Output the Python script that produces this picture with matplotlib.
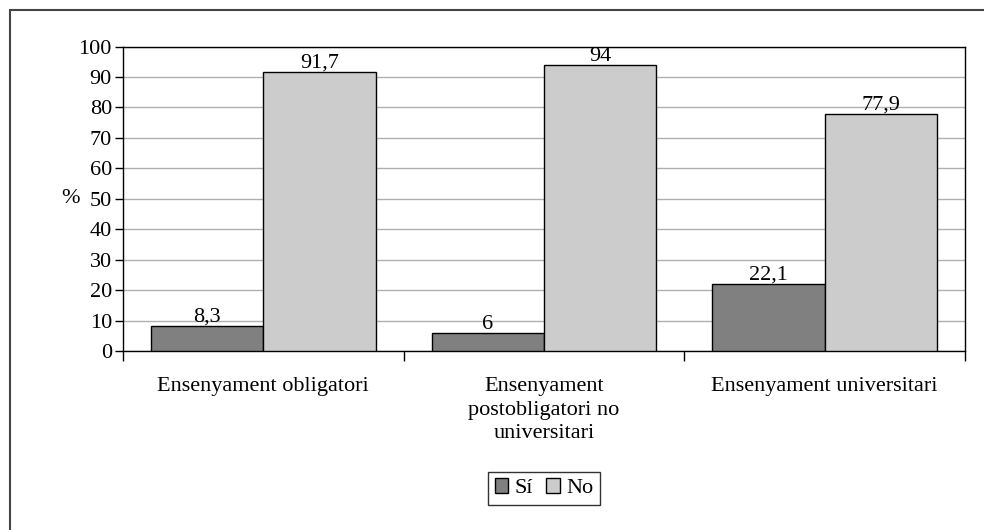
import matplotlib
matplotlib.use("Agg")
import matplotlib.pyplot as plt
import numpy as np
from matplotlib.patches import Rectangle

plt.rcParams['font.family'] = ['Liberation Serif', 'DejaVu Serif']

categories = ["Ensenyament obligatori", "Ensenyament\npostobligatori no\nuniversitari", "Ensenyament universitari"]
series_names = ["Sí", "No"]
si_values = [8.3, 6, 22.1]
no_values = [91.7, 94, 77.9]
yticks = [0, 10, 20, 30, 40, 50, 60, 70, 80, 90, 100]

FS = 16

def fmt(v):
    s = f"{v:g}"
    return s.replace('.', ',')

fig = plt.figure(figsize=(9.84, 5.30), dpi=100)
ax = fig.add_axes([123/984, 1-351/530, (965-123)/984, (351-46.5)/530])

x = np.arange(len(categories))
w = 0.4
b1 = ax.bar(x - w/2, si_values, w, color='#808080', edgecolor='black', linewidth=1.0, label=series_names[0], zorder=3)
b2 = ax.bar(x + w/2, no_values, w, color='#cccccc', edgecolor='black', linewidth=1.0, label=series_names[1], zorder=3)

for bars, vals in ((b1, si_values), (b2, no_values)):
    for r, v in zip(bars, vals):
        ax.text(r.get_x() + r.get_width()/2, v - 0.3, fmt(v), ha='center', va='bottom', fontsize=FS)

ax.set_xlim(-0.5, 2.5)
ax.set_ylim(0, 100)
ax.set_yticks(yticks)
ax.set_yticklabels([str(t) for t in yticks], fontsize=FS)
ax.yaxis.grid(True, color='#b0b0b0', linewidth=1.0, zorder=0)
ax.set_axisbelow(True)
ax.tick_params(axis='y', length=6, width=1, direction='out', pad=2)

ax.set_xticks([-0.5, 0.5, 1.5, 2.5])
ax.set_xticklabels([])
ax.tick_params(axis='x', length=7, width=1, direction='out')
for i, c in enumerate(categories):
    ax.text(i, -8.7, c, ha='center', va='top', fontsize=FS, linespacing=1.32,
            transform=ax.transData)

for s in ax.spines.values():
    s.set_linewidth(1.0)
    s.set_color('black')

ax.set_ylabel('%', rotation=0, fontsize=FS, labelpad=6, va='center')

leg = ax.legend(loc='upper center', bbox_to_anchor=(0.5, -0.36), ncol=2, fontsize=FS,
                frameon=True, fancybox=False, edgecolor='black', handlelength=0.6,
                handleheight=0.6, handletextpad=0.3, columnspacing=0.6, borderpad=0.3)
leg.get_frame().set_linewidth(1.0)

fig.patches.append(Rectangle((10/984, -0.5), 2, 1 - 10/530 + 0.5, transform=fig.transFigure,
                             fill=False, edgecolor='#444444', linewidth=1.5))

fig.savefig('out.png', dpi=100)
